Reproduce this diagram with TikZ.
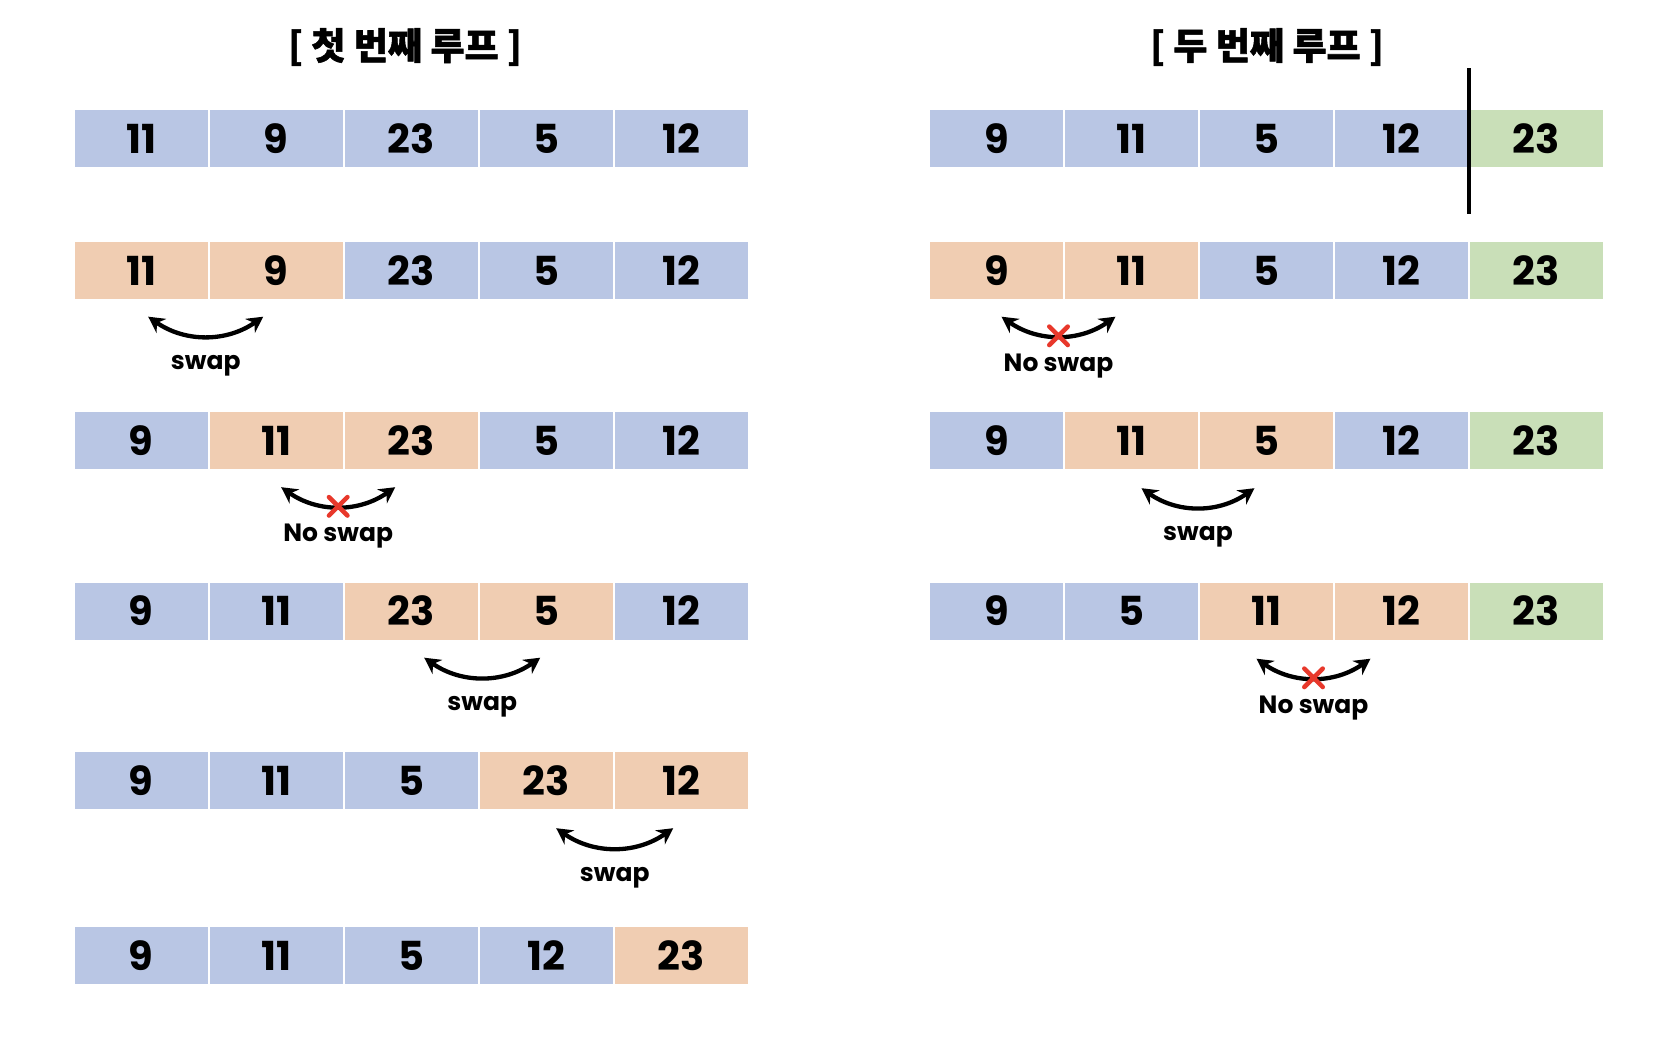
\documentclass[tikz,border=0pt]{standalone}
\usepackage{fontspec}
\setmainfont{Poppins}
\newfontfamily\krfont{Noto Sans CJK KR}[BoldFont={Noto Sans CJK KR Black},BoldFeatures={FakeBold=1.5}]
\usetikzlibrary{arrows.meta,shapes.misc}
\definecolor{cellblue}{HTML}{B9C6E4}
\definecolor{cellorange}{HTML}{F0CDB2}
\definecolor{cellgreen}{HTML}{C9DFB8}
\definecolor{markred}{HTML}{E8382B}
\tikzset{
    cell/.style={rectangle,inner sep=0pt,minimum width=133pt,minimum height=57pt,font=\fontsize{40}{44}\selectfont\bfseries},
    swaparc/.style={{Stealth[length=16pt,width=17pt]}-{Stealth[length=16pt,width=17pt]},line width=4.3pt},
    nomark/.style={cross out,draw=markred,line width=4.5pt,minimum size=14pt,inner sep=0pt,line cap=round},
    swaptext/.style={font=\fontsize{25}{28}\selectfont\bfseries},
    looptitle/.style={font=\krfont\bfseries\fontsize{37}{40}\selectfont}
}

\begin{document}
\begin{tikzpicture}[x=1pt,y=-1pt]
    \useasboundingbox (0,0) rectangle (1660,1056);
    \node[looptitle] (title1) at (405,47) {[ 첫 번째 루프 ]};
    \node[looptitle] (title2) at (1267,47) {[ 두 번째 루프 ]};

    \foreach \v/\c [count=\k] in {11/cellblue,9/cellblue,23/cellblue,5/cellblue,12/cellblue}
        \node[cell,fill=\c] (f1\k) at ({141.2+135*(\k-1)},139) {\v};
    \foreach \v/\c [count=\k] in {11/cellorange,9/cellorange,23/cellblue,5/cellblue,12/cellblue}
        \node[cell,fill=\c] (f2\k) at ({141.2+135*(\k-1)},271) {\v};
    \foreach \v/\c [count=\k] in {9/cellblue,11/cellorange,23/cellorange,5/cellblue,12/cellblue}
        \node[cell,fill=\c] (f3\k) at ({141.2+135*(\k-1)},440.5) {\v};
    \foreach \v/\c [count=\k] in {9/cellblue,11/cellblue,23/cellorange,5/cellorange,12/cellblue}
        \node[cell,fill=\c] (f4\k) at ({141.2+135*(\k-1)},611) {\v};
    \foreach \v/\c [count=\k] in {9/cellblue,11/cellblue,5/cellblue,23/cellorange,12/cellorange}
        \node[cell,fill=\c] (f5\k) at ({141.2+135*(\k-1)},780.5) {\v};
    \foreach \v/\c [count=\k] in {9/cellblue,11/cellblue,5/cellblue,12/cellblue,23/cellorange}
        \node[cell,fill=\c] (f6\k) at ({141.2+135*(\k-1)},955.5) {\v};

    \draw[swaparc] ([shift={(7,17)}]f21.south) to[bend right=35] node[midway,yshift=-30pt,swaptext]{swap} ([shift={(-13,17)}]f22.south);
    \draw[swaparc] ([shift={(5,18)}]f32.south) to[bend right=35] node[midway,nomark]{} node[midway,yshift=-30pt,swaptext]{No swap} ([shift={(-16,18)}]f33.south);
    \draw[swaparc] ([shift={(13,18)}]f43.south) to[bend right=35] node[midway,yshift=-30pt,swaptext]{swap} ([shift={(-6,18)}]f44.south);
    \draw[swaparc] ([shift={(10,19)}]f54.south) to[bend right=35] node[midway,yshift=-30pt,swaptext]{swap} ([shift={(-8,19)}]f55.south);

    \foreach \v/\c [count=\k] in {9/cellblue,11/cellblue,5/cellblue,12/cellblue,23/cellgreen}
        \node[cell,fill=\c] (s1\k) at ({996.5+135*(\k-1)},139) {\v};
    \foreach \v/\c [count=\k] in {9/cellorange,11/cellorange,5/cellblue,12/cellblue,23/cellgreen}
        \node[cell,fill=\c] (s2\k) at ({996.5+135*(\k-1)},271) {\v};
    \foreach \v/\c [count=\k] in {9/cellblue,11/cellorange,5/cellorange,12/cellblue,23/cellgreen}
        \node[cell,fill=\c] (s3\k) at ({996.5+135*(\k-1)},440.5) {\v};
    \foreach \v/\c [count=\k] in {9/cellblue,5/cellblue,11/cellorange,12/cellorange,23/cellgreen}
        \node[cell,fill=\c] (s4\k) at ({996.5+135*(\k-1)},611) {\v};

    \coordinate (cuttop) at ([shift={(-1,-42)}]s15.north west);
    \coordinate (cutbot) at ([shift={(-1,46)}]s15.south west);
    \draw[line width=4pt] (cuttop) -- (cutbot);

    \draw[swaparc] ([shift={(5,17)}]s21.south) to[bend right=35] node[midway,nomark]{} node[midway,yshift=-30pt,swaptext]{No swap} ([shift={(-16,17)}]s22.south);
    \draw[swaparc] ([shift={(10,19)}]s32.south) to[bend right=35] node[midway,yshift=-30pt,swaptext]{swap} ([shift={(-12,19)}]s33.south);
    \draw[swaparc] ([shift={(-10,19)}]s43.south) to[bend right=35] node[midway,nomark]{} node[midway,yshift=-30pt,swaptext]{No swap} ([shift={(-31,19)}]s44.south);
\end{tikzpicture}
\end{document}
